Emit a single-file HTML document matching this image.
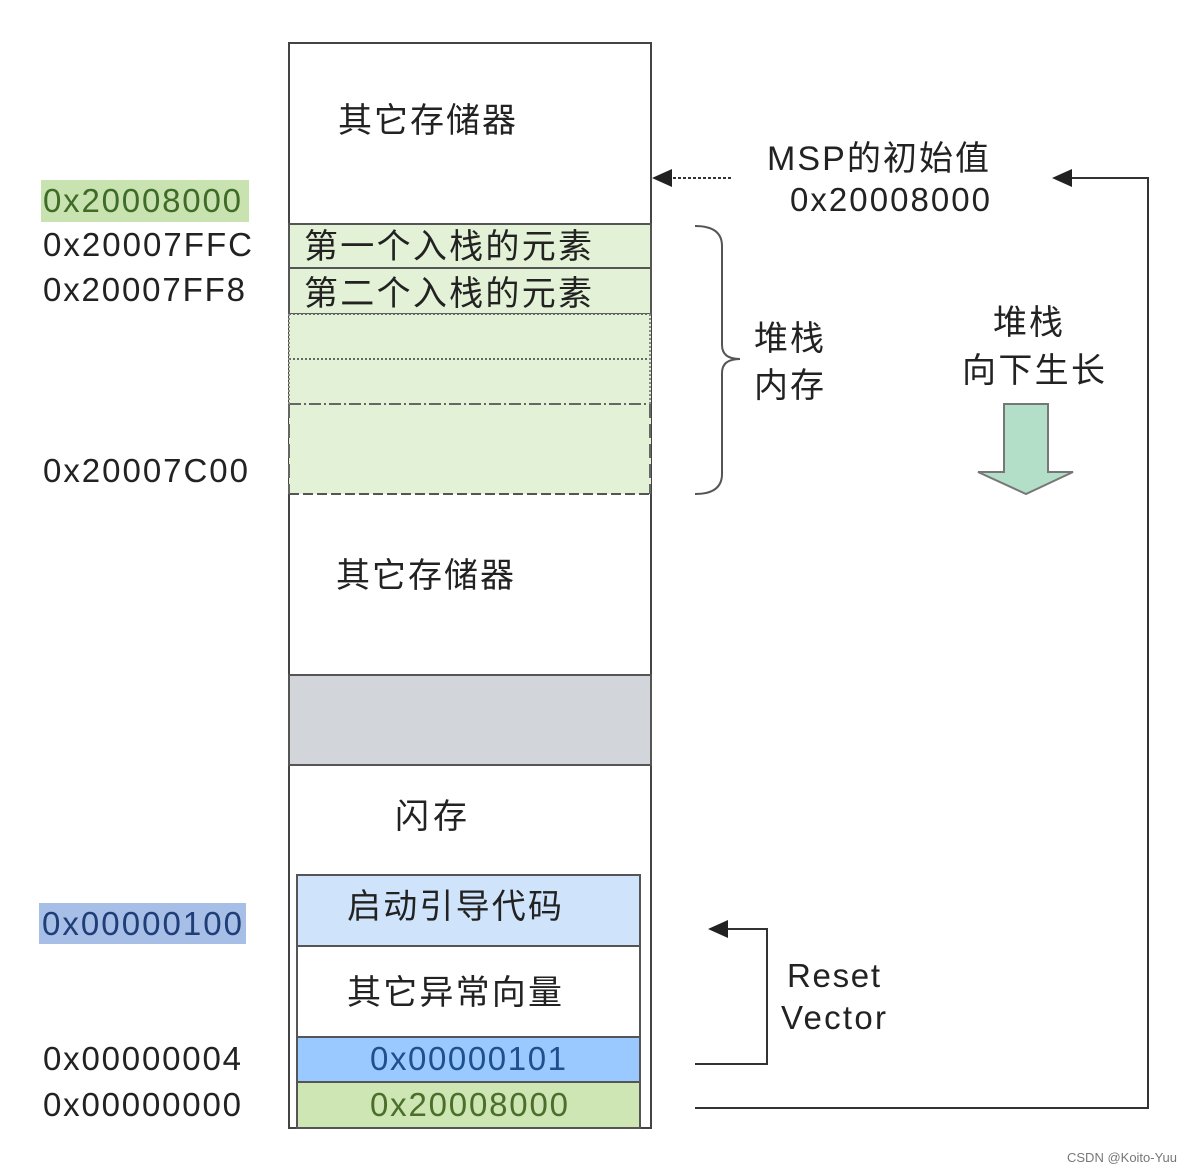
<!DOCTYPE html>
<html><head><meta charset="utf-8"><style>html,body{margin:0;padding:0;background:#fff}svg{display:block}</style></head><body>
<svg width="1200" height="1172" xmlns="http://www.w3.org/2000/svg" font-family="'Liberation Sans','Noto Sans CJK SC',sans-serif" fill="#222">
<defs>
<marker id="ah" markerWidth="10" markerHeight="10" refX="1" refY="5" orient="auto" markerUnits="userSpaceOnUse" viewBox="0 0 10 10"><path d="M10,0 L0,5 L10,10 Z" fill="#222"/></marker>
</defs>
<!-- main column -->
<rect x="289" y="43" width="362" height="1085" fill="#fff" stroke="#444" stroke-width="2"/>
<rect x="289" y="224" width="362" height="44" fill="#e3f1d6" stroke="#555" stroke-width="2"/>
<rect x="289" y="268" width="362" height="46" fill="#e3f1d6" stroke="#555" stroke-width="2"/>
<rect x="289" y="314" width="362" height="180" fill="#e3f1d6"/>
<line x1="289" y1="314" x2="651" y2="314" stroke="#666" stroke-width="2" stroke-dasharray="2,2"/>
<line x1="289" y1="359" x2="651" y2="359" stroke="#666" stroke-width="2" stroke-dasharray="2,2"/>
<line x1="289" y1="404" x2="651" y2="404" stroke="#666" stroke-width="2" stroke-dasharray="12,3,2,3"/>
<line x1="289" y1="494" x2="651" y2="494" stroke="#555" stroke-width="2" stroke-dasharray="10,4"/>
<line x1="289" y1="314" x2="289" y2="404" stroke="#888" stroke-width="2" stroke-dasharray="2,2"/>
<line x1="650" y1="314" x2="650" y2="404" stroke="#888" stroke-width="2" stroke-dasharray="2,2"/>
<line x1="289" y1="404" x2="289" y2="494" stroke="#666" stroke-width="2" stroke-dasharray="14,6"/>
<line x1="650" y1="404" x2="650" y2="494" stroke="#666" stroke-width="2" stroke-dasharray="14,6"/>
<rect x="289" y="675" width="362" height="90" fill="#d2d5d9" stroke="#555" stroke-width="2"/>
<rect x="297" y="875" width="343" height="71" fill="#cfe4fa" stroke="#555" stroke-width="2"/>
<rect x="297" y="946" width="343" height="91" fill="#fff" stroke="#555" stroke-width="2"/>
<rect x="297" y="1037" width="343" height="45" fill="#99c9ff" stroke="#555" stroke-width="2"/>
<rect x="297" y="1082" width="343" height="46" fill="#cde6b4" stroke="#555" stroke-width="2"/>
<g font-size="34">
<text x="338" y="132" textLength="178">其它存储器</text>
<text x="304" y="258" textLength="288">第一个入栈的元素</text>
<text x="304" y="305" textLength="288">第二个入栈的元素</text>
<text x="336" y="587" textLength="178">其它存储器</text>
<text x="395" y="828" textLength="72">闪存</text>
<text x="347" y="918" textLength="215">启动引导代码</text>
<text x="347" y="1004" textLength="215">其它异常向量</text>
<text x="754" y="350" textLength="70">堆栈</text>
<text x="754" y="397" textLength="70">内存</text>
<text x="993" y="334" textLength="70">堆栈</text>
<text x="962" y="382" textLength="143">向下生长</text>
<text x="767" y="170" textLength="222">MSP的初始值</text>
</g>
<g font-size="33">
<rect x="41" y="180" width="208" height="42" fill="#c9e3b0"/>
<text x="43" y="212" textLength="198" fill="#3f6b28">0x20008000</text>
<text x="43" y="256" textLength="209">0x20007FFC</text>
<text x="43" y="301" textLength="202">0x20007FF8</text>
<text x="43" y="482" textLength="205">0x20007C00</text>
<rect x="39" y="903" width="207" height="41" fill="#a7bfe6"/>
<text x="42" y="935" textLength="200" fill="#1f3e78">0x00000100</text>
<text x="43" y="1070" textLength="198">0x00000004</text>
<text x="43" y="1116" textLength="198">0x00000000</text>
<text x="370" y="1070" textLength="196" fill="#1f4f8c">0x00000101</text>
<text x="370" y="1116" textLength="198" fill="#4b6f2a">0x20008000</text>
<text x="790" y="211" textLength="200">0x20008000</text>
<text x="787" y="987" textLength="93">Reset</text>
<text x="781" y="1029" textLength="105">Vector</text>
</g>
<!-- MSP dotted arrow -->
<line x1="731" y1="178" x2="668" y2="178" stroke="#333" stroke-width="2" stroke-dasharray="3,2"/>
<path d="M652,178 L672,169 L672,187 Z" fill="#222"/>
<!-- brace -->
<path d="M695,226 Q722,226 722,246 L722,345 Q722,359 740,359 Q722,359 722,373 L722,474 Q722,494 695,494" fill="none" stroke="#555" stroke-width="2"/>
<!-- down arrow -->
<path d="M1004,404 L1048,404 L1048,472 L1073,472 L1026,494 L978,472 L1004,472 Z" fill="#b3dfc8" stroke="#777" stroke-width="2"/>
<!-- long return line -->
<polyline points="695,1108 1148,1108 1148,178 1070,178" fill="none" stroke="#333" stroke-width="2"/>
<path d="M1052,178 L1072,169 L1072,187 Z" fill="#222"/>
<!-- reset arrow -->
<polyline points="695,1064 767,1064 767,929 726,929" fill="none" stroke="#333" stroke-width="2"/>
<path d="M708,929 L728,920 L728,938 Z" fill="#222"/>
<text x="1067" y="1162" font-size="13" fill="#777">CSDN @Koito-Yuu</text>
</svg>
</body></html>
